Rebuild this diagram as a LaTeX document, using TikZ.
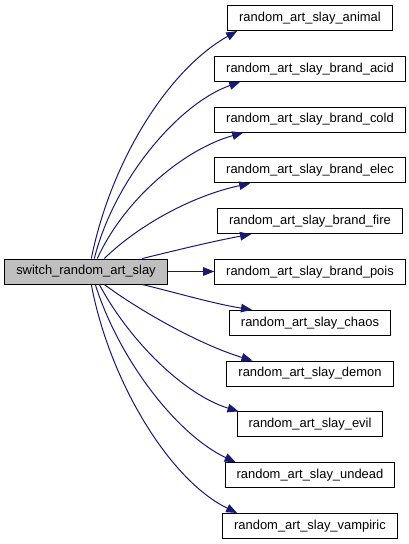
\documentclass[tikz,border=0pt]{standalone}
\usepackage{fontspec}
\setmainfont{Liberation Sans}
\usetikzlibrary{arrows.meta}
\definecolor{callblue}{RGB}{25,25,112}
\tikzset{
  fnbox/.style={rectangle,draw=black,fill=white,line width=0.75pt,
    minimum height=18.75pt,inner xsep=8.6pt,inner ysep=2pt,
    font=\fontsize{9.7}{11.6}\selectfont},
  rootbox/.style={fnbox,fill=black!25},
  call/.style={draw=callblue,line width=0.75pt,
    -{Triangle[length=8.3pt,width=6.4pt]}}
}
\begin{document}
\begin{tikzpicture}[x=0.75pt,y=-0.75pt]
  \useasboundingbox (0,0) rectangle (409,544);
  \node[rootbox] (main) at (86,271.5) {switch\_random\_art\_slay};
  % callees, one column, top to bottom
  \foreach \nm/\lbl [count=\i from 0] in {animal/animal,acid/brand\_acid,
      cold/brand\_cold,elec/brand\_elec,fire/brand\_fire,pois/brand\_pois,
      chaos/chaos,demon/demon,evil/evil,undead/undead,vampiric/vampiric}
    \node[fnbox] (\nm) at (310,18+50.8*\i) {random\_art\_slay\_\lbl};
  % calls going up
  \draw[call] ([shift={(87,0)}]main.north west) .. controls +(20,-99) and +(-68,38) .. ([shift={(10,0)}]animal.south west);
  \draw[call] ([shift={(90,0)}]main.north west) .. controls +(20,-79) and +(-62,22) .. ([shift={(26,0)}]acid.south west);
  \draw[call] ([shift={(93,0)}]main.north west) .. controls +(27,-59) and +(-60,17) .. ([shift={(29,0)}]cold.south west);
  \draw[call] ([shift={(100,0)}]main.north west) .. controls +(35,-34) and +(-57,12) .. ([shift={(36,0)}]elec.south west);
  \draw[call] ([shift={(138,0)}]main.north west) .. controls +(37,-9) and +(-38,7) .. ([shift={(34,0)}]fire.south west);
  \draw[call] (main.east) -- (main.east -| pois.west);
  % calls going down
  \draw[call] ([shift={(138,0)}]main.south west) .. controls +(37,9) and +(-38,-6) .. ([shift={(23,0)}]chaos.north west);
  \draw[call] ([shift={(100,0)}]main.south west) .. controls +(35,26) and +(-53,-16) .. ([shift={(26,0)}]demon.north west);
  \draw[call] ([shift={(95,0)}]main.south west) .. controls +(30,56) and +(-55,-17) .. ([shift={(2,0)}]evil.north west);
  \draw[call] ([shift={(91,0)}]main.south west) .. controls +(24,76) and +(-58,-27) .. ([shift={(11,0)}]undead.north west);
  \draw[call] ([shift={(87,0)}]main.south west) .. controls +(18,96) and +(-68,-33) .. ([shift={(15,0)}]vampiric.north west);
\end{tikzpicture}
\end{document}
